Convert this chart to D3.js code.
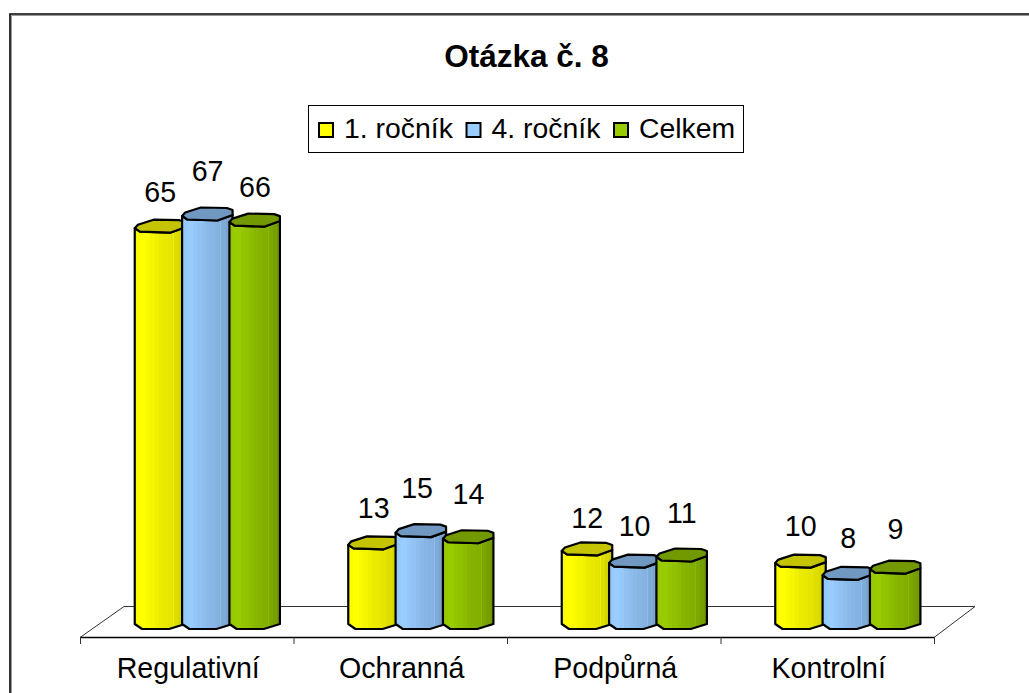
<!DOCTYPE html>
<html><head><meta charset="utf-8">
<script src="https://cdn.jsdelivr.net/npm/d3@7/dist/d3.min.js"></script>
<style>html,body{margin:0;padding:0;background:#fff}svg{display:block}text{font-family:"Liberation Sans",Arial,sans-serif;fill:#000}</style>
</head><body><svg id="c" width="1029" height="693"></svg>
<script>
const title = "Otázka č. 8";
const categories = ["Regulativní","Ochranná","Podpůrná","Kontrolní"];
const seriesNames = ["1. ročník","4. ročník","Celkem"];
const year1 = [65,13,12,10];
const year4 = [67,15,10,8];
const total = [66,14,11,9];
const seriesValues = [year1,year4,total];
const seriesLight = ["#ffff00","#99ccff","#99cc00"];
const seriesDark  = ["#c8c800","#6f96be","#6a8f00"];
const seriesTop   = ["#c4c400","#7098c0","#739900"];
const labelLift = [[36,45,35],[37,45,45],[33,37,44],[37,37,40]];
const labelNudge = [[0,0,0],[0,-4,0],[0,0,0],[0,0,0]];

const svg = d3.select("#c");
const defs = svg.append("defs");
seriesLight.forEach((c,i)=>{
  const g = defs.append("linearGradient").attr("id","g"+i);
  const ramp = d3.interpolateRgb(c,seriesDark[i]);
  const bands=[[0,.1],[.05,.04],[.1,0],[.22,.1],[.3,.18],[.4,.28],[.48,.36],[.56,.42],[.65,.48],[.74,.52],[.76,.3],[.775,.62],[.86,.74],[.94,.85]];
  bands.forEach(([o,k],j)=>{
    const next = j<bands.length-1?bands[j+1][0]:1;
    g.append("stop").attr("offset",o).attr("stop-color",ramp(k));
    g.append("stop").attr("offset",next).attr("stop-color",ramp(k));
  });
});

// frame: open on the right and bottom
svg.append("path").attr("d","M10,693V14H1029").attr("fill","none").attr("stroke","#000").attr("stroke-width",1.6);
svg.append("path").attr("d","M11.5,693V15.5H1029").attr("fill","none").attr("stroke","#999").attr("stroke-width",1);

const x = d3.scaleBand().domain(categories).range([80,934]);
const sub = d3.scaleBand().domain(d3.range(3)).range([0,142]);
const y = d3.scaleLinear().domain([0,67]).range([624,216]);
const shift = x.bandwidth()/2 - 71 + 19;

// floor
const fl = svg.append("g").attr("fill","none").attr("stroke","#000");
fl.append("path").attr("d","M80,637.5L124,606.5H975L934,637.5").attr("stroke","#333");
fl.append("path").attr("d","M80,637.5H934").attr("stroke-width",1.6);
[...categories.map(c=>x(c)),x.range()[1]].forEach(t=>fl.append("line").attr("x1",t+.5).attr("x2",t+.5).attr("y1",637).attr("y2",644).attr("stroke","#333"));

const w = 50.5, s = w/48.5;
const topShape = [[0,0],[5,3.5],[34,4.5],[48.5,-1],[48.5,-6],[43,-8],[18,-8.5],[3,-3.5]];
const line = d3.line().curve(d3.curveLinearClosed);
categories.forEach((cat,ci)=>{
  seriesValues.forEach((vals,si)=>{
    const x0 = x(cat)+shift+sub(si), yt = y(vals[ci]), yb = y(0);
    const g = svg.append("g");
    const body = [[x0,yt],[x0,yb],[x0+7*s,yb+5],[x0+33*s,yb+5],[x0+w,yb],[x0+w,yt-1],[x0+34*s,yt+4.5],[x0+5*s,yt+3.5]];
    g.append("path").attr("d",line(body)).attr("fill",`url(#g${si})`).attr("stroke","#000").attr("stroke-width",2.2).attr("stroke-linejoin","round");
    g.append("path").attr("d",line(topShape.map(([a,b])=>[x0+a*s,yt+b]))).attr("fill",seriesTop[si]).attr("stroke","#000").attr("stroke-width",2.2).attr("stroke-linejoin","round");
    svg.append("text").attr("class","lab").attr("x",x0+25.5+labelNudge[ci][si]).attr("y",yt-labelLift[ci][si]+10).attr("text-anchor","middle").attr("font-size",28.6).text(vals[ci]);
  });
});
svg.selectAll("text.lab").raise();

// category labels
svg.append("g").selectAll("text").data(categories).join("text")
  .attr("x",d=>x(d)+x.bandwidth()/2+1.5).attr("y",678).attr("text-anchor","middle").attr("font-size",28.6).text(d=>d);

svg.append("text").attr("x",526.5).attr("y",67).attr("text-anchor","middle").attr("font-size",31.5).attr("font-weight","bold").text(title);

// legend
const lg = svg.append("g");
lg.append("rect").attr("x",308.5).attr("y",105.5).attr("width",435).attr("height",47).attr("fill","#fff").attr("stroke","#000");
const lx=[318,465.5,613];
seriesNames.forEach((n,i)=>{
  lg.append("rect").attr("x",lx[i]+1).attr("y",123).attr("width",14).attr("height",14).attr("fill",seriesLight[i]).attr("stroke","#000").attr("stroke-width",2);
  lg.append("text").attr("x",lx[i]+26).attr("y",138).attr("font-size",28.4).text(n);
});
</script></body></html>
